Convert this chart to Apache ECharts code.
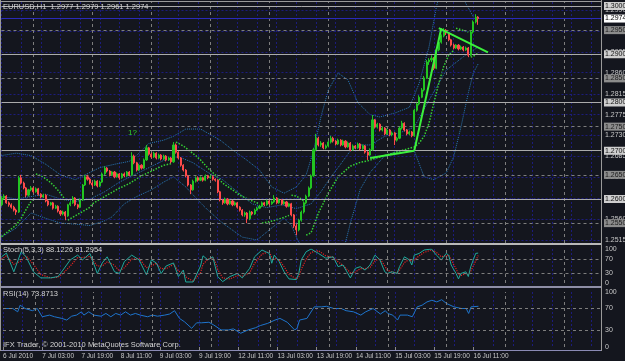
<!DOCTYPE html>
<html>
<head>
<meta charset="utf-8">
<script src="https://cdn.jsdelivr.net/npm/echarts@6/dist/echarts.min.js"></script>
<style>
html,body{margin:0;padding:0;background:#14161e;}
#chart{width:625px;height:361px;}
</style>
</head>
<body>
<div id="chart"></div>
<script>
// time slots: H1 bars from 6 Jul 2010 11:00, then empty future slots
const dayNames = ['6 Jul','7 Jul','8 Jul','9 Jul','12 Jul','13 Jul','14 Jul','15 Jul','16 Jul','19 Jul','20 Jul'];
const categories = [];
dayNames.forEach(function (d, k) {
    for (let h = (k === 0 ? 11 : 0); h < 24; h++) {
        if (categories.length < 245) categories.push(d + ' ' + (h < 10 ? '0' + h : h) + ':00');
    }
});

// [open, close, low, high]
const candles = [
[1.2588,1.2602,1.2585,1.2606],[1.2602,1.2606,1.2599,1.2610],[1.2606,1.2592,1.2590,1.2608],[1.2592,1.2588,1.2584,1.2595],
[1.2588,1.2583,1.2580,1.2591],[1.2583,1.2577,1.2574,1.2586],[1.2577,1.2573,1.2567,1.2580],[1.2573,1.2644,1.2571,1.2648],
[1.2644,1.2633,1.2630,1.2650],[1.2633,1.2623,1.2620,1.2636],[1.2623,1.2608,1.2604,1.2625],[1.2608,1.2619,1.2605,1.2621],
[1.2619,1.2623,1.2616,1.2627],[1.2623,1.2615,1.2612,1.2625],[1.2615,1.2621,1.2613,1.2624],[1.2621,1.2610,1.2607,1.2623],
[1.2610,1.2604,1.2601,1.2612],[1.2604,1.2608,1.2602,1.2611],[1.2608,1.2596,1.2593,1.2610],[1.2596,1.2588,1.2585,1.2598],
[1.2588,1.2592,1.2586,1.2594],[1.2592,1.2581,1.2578,1.2594],[1.2581,1.2585,1.2579,1.2588],[1.2585,1.2575,1.2572,1.2587],
[1.2575,1.2569,1.2565,1.2577],[1.2569,1.2573,1.2566,1.2576],[1.2573,1.2565,1.2556,1.2575],[1.2565,1.2588,1.2563,1.2590],
[1.2588,1.2592,1.2585,1.2596],[1.2592,1.2602,1.2590,1.2606],[1.2602,1.2588,1.2585,1.2604],[1.2588,1.2583,1.2579,1.2590],
[1.2583,1.2598,1.2581,1.2601],[1.2598,1.2629,1.2596,1.2631],[1.2629,1.2646,1.2627,1.2650],[1.2646,1.2641,1.2638,1.2650],
[1.2641,1.2633,1.2630,1.2644],[1.2633,1.2629,1.2625,1.2636],[1.2629,1.2637,1.2627,1.2640],[1.2637,1.2627,1.2624,1.2639],
[1.2627,1.2635,1.2625,1.2638],[1.2635,1.2652,1.2633,1.2655],[1.2652,1.2664,1.2650,1.2668],[1.2664,1.2658,1.2655,1.2666],
[1.2658,1.2650,1.2647,1.2660],[1.2650,1.2656,1.2648,1.2658],[1.2656,1.2646,1.2643,1.2658],[1.2646,1.2652,1.2644,1.2655],
[1.2652,1.2644,1.2640,1.2654],[1.2644,1.2652,1.2642,1.2654],[1.2652,1.2648,1.2645,1.2655],[1.2648,1.2656,1.2646,1.2658],
[1.2656,1.2650,1.2647,1.2658],[1.2650,1.2689,1.2648,1.2697],[1.2689,1.2675,1.2672,1.2692],[1.2675,1.2660,1.2657,1.2677],
[1.2660,1.2670,1.2658,1.2673],[1.2670,1.2664,1.2661,1.2672],[1.2664,1.2681,1.2662,1.2684],[1.2681,1.2706,1.2679,1.2712],
[1.2706,1.2693,1.2690,1.2708],[1.2693,1.2687,1.2684,1.2696],[1.2687,1.2695,1.2685,1.2698],[1.2695,1.2685,1.2682,1.2697],
[1.2685,1.2691,1.2683,1.2694],[1.2691,1.2683,1.2680,1.2693],[1.2683,1.2689,1.2681,1.2692],[1.2689,1.2681,1.2678,1.2691],
[1.2681,1.2685,1.2679,1.2688],[1.2685,1.2677,1.2674,1.2687],[1.2677,1.2712,1.2675,1.2718],[1.2712,1.2697,1.2694,1.2715],
[1.2697,1.2685,1.2682,1.2699],[1.2685,1.2670,1.2667,1.2687],[1.2670,1.2660,1.2657,1.2672],[1.2660,1.2648,1.2645,1.2662],
[1.2648,1.2629,1.2626,1.2650],[1.2629,1.2619,1.2610,1.2631],[1.2619,1.2637,1.2617,1.2640],[1.2637,1.2644,1.2634,1.2647],
[1.2644,1.2639,1.2636,1.2647],[1.2639,1.2644,1.2637,1.2647],[1.2644,1.2639,1.2636,1.2646],[1.2639,1.2648,1.2637,1.2651],
[1.2648,1.2644,1.2641,1.2650],[1.2644,1.2646,1.2642,1.2650],[1.2646,1.2641,1.2638,1.2648],[1.2641,1.2639,1.2636,1.2643],
[1.2639,1.2615,1.2612,1.2641],[1.2615,1.2598,1.2595,1.2617],[1.2598,1.2592,1.2588,1.2600],[1.2592,1.2600,1.2590,1.2603],
[1.2600,1.2590,1.2587,1.2602],[1.2590,1.2596,1.2588,1.2599],[1.2596,1.2588,1.2585,1.2598],[1.2588,1.2592,1.2586,1.2595],
[1.2592,1.2583,1.2580,1.2594],[1.2583,1.2577,1.2574,1.2585],[1.2577,1.2567,1.2564,1.2579],[1.2567,1.2571,1.2563,1.2574],
[1.2571,1.2559,1.2550,1.2573],[1.2559,1.2573,1.2556,1.2576],[1.2573,1.2569,1.2566,1.2575],[1.2569,1.2577,1.2567,1.2580],
[1.2577,1.2581,1.2575,1.2584],[1.2581,1.2585,1.2579,1.2588],[1.2585,1.2592,1.2583,1.2595],[1.2592,1.2588,1.2585,1.2594],
[1.2588,1.2596,1.2586,1.2599],[1.2596,1.2590,1.2587,1.2598],[1.2590,1.2594,1.2588,1.2597],[1.2594,1.2602,1.2592,1.2608],
[1.2602,1.2592,1.2589,1.2604],[1.2592,1.2598,1.2590,1.2601],[1.2598,1.2590,1.2587,1.2600],[1.2590,1.2594,1.2588,1.2597],
[1.2594,1.2585,1.2582,1.2596],[1.2585,1.2590,1.2583,1.2592],[1.2590,1.2567,1.2564,1.2592],[1.2567,1.2544,1.2540,1.2569],
[1.2544,1.2536,1.2525,1.2548],[1.2536,1.2556,1.2533,1.2559],[1.2556,1.2573,1.2553,1.2576],[1.2573,1.2592,1.2570,1.2595],
[1.2592,1.2606,1.2589,1.2609],[1.2606,1.2623,1.2604,1.2626],[1.2623,1.2648,1.2620,1.2651],[1.2648,1.2702,1.2646,1.2706],
[1.2702,1.2726,1.2699,1.2735],[1.2726,1.2712,1.2709,1.2729],[1.2712,1.2716,1.2708,1.2720],[1.2716,1.2706,1.2703,1.2718],
[1.2706,1.2710,1.2703,1.2713],[1.2710,1.2718,1.2707,1.2721],[1.2718,1.2726,1.2715,1.2731],[1.2726,1.2720,1.2717,1.2729],
[1.2720,1.2714,1.2711,1.2722],[1.2714,1.2722,1.2712,1.2725],[1.2722,1.2712,1.2709,1.2724],[1.2712,1.2720,1.2710,1.2723],
[1.2720,1.2708,1.2705,1.2722],[1.2708,1.2716,1.2706,1.2719],[1.2716,1.2702,1.2699,1.2718],[1.2702,1.2710,1.2700,1.2713],
[1.2710,1.2706,1.2703,1.2712],[1.2706,1.2714,1.2704,1.2717],[1.2714,1.2704,1.2701,1.2716],[1.2704,1.2710,1.2702,1.2713],
[1.2710,1.2697,1.2694,1.2712],[1.2697,1.2691,1.2681,1.2699],[1.2691,1.2702,1.2689,1.2705],[1.2702,1.2764,1.2700,1.2774],
[1.2764,1.2749,1.2746,1.2766],[1.2749,1.2755,1.2746,1.2758],[1.2755,1.2743,1.2740,1.2757],[1.2743,1.2747,1.2740,1.2750],
[1.2747,1.2735,1.2732,1.2749],[1.2735,1.2743,1.2733,1.2746],[1.2743,1.2733,1.2730,1.2745],[1.2733,1.2737,1.2730,1.2740],
[1.2737,1.2722,1.2712,1.2739],[1.2722,1.2726,1.2719,1.2729],[1.2726,1.2747,1.2724,1.2750],[1.2747,1.2757,1.2744,1.2762],
[1.2757,1.2743,1.2740,1.2759],[1.2743,1.2735,1.2732,1.2745],[1.2735,1.2739,1.2732,1.2742],[1.2739,1.2731,1.2728,1.2741],
[1.2731,1.2784,1.2729,1.2787],[1.2784,1.2797,1.2781,1.2800],[1.2797,1.2811,1.2794,1.2815],[1.2811,1.2826,1.2809,1.2830],
[1.2826,1.2851,1.2823,1.2855],[1.2851,1.2884,1.2849,1.2888],[1.2884,1.2888,1.2878,1.2892],[1.2888,1.2892,1.2884,1.2898],
[1.2892,1.2871,1.2867,1.2894],[1.2871,1.2909,1.2869,1.2912],[1.2909,1.2925,1.2906,1.2928],[1.2925,1.2938,1.2922,1.2941],
[1.2938,1.2950,1.2935,1.2954],[1.2950,1.2944,1.2940,1.2952],[1.2944,1.2930,1.2927,1.2946],[1.2930,1.2919,1.2916,1.2932],
[1.2919,1.2913,1.2910,1.2922],[1.2913,1.2919,1.2911,1.2921],[1.2919,1.2911,1.2908,1.2921],[1.2911,1.2915,1.2909,1.2918],
[1.2915,1.2909,1.2906,1.2917],[1.2909,1.2913,1.2907,1.2916],[1.2913,1.2898,1.2894,1.2915],[1.2898,1.2946,1.2896,1.2949],
[1.2946,1.2967,1.2943,1.2970],[1.2967,1.2977,1.2964,1.2983],[1.2977,1.2974,1.2961,1.2979]
];

// Bollinger bands, read at sparse bars [bar, price]
const bbUpper = [[0,1.2690],[6,1.2695],[12,1.2690],[18,1.2672],[24,1.2650],[30,1.2640],[36,1.2655],[40,1.2665],[46,1.2672],[52,1.2678],[56,1.2695],[60,1.2715],[66,1.2722],[70,1.2730],[75,1.2745],[81,1.2745],[89,1.2722],[94,1.2702],[100,1.2680],[105,1.2660],[110,1.2625],[115,1.2612],[120,1.2625],[124,1.2650],[127,1.2700],[130,1.2770],[133,1.2826],[137,1.2861],[141,1.2847],[145,1.2800],[150,1.2775],[154,1.2770],[160,1.2778],[166,1.2790],[170,1.2840],[174,1.2915],[177,1.2998],[180,1.3060],[186,1.3060],[189,1.3005],[192,1.2978],[194,1.2965]];
const bbMiddle = [[0,1.2605],[6,1.2600],[12,1.2605],[18,1.2610],[24,1.2600],[30,1.2595],[36,1.2600],[42,1.2615],[48,1.2635],[54,1.2650],[60,1.2665],[66,1.2680],[72,1.2688],[78,1.2675],[84,1.2655],[90,1.2640],[96,1.2615],[102,1.2590],[108,1.2582],[114,1.2588],[120,1.2580],[126,1.2590],[130,1.2615],[134,1.2645],[138,1.2672],[142,1.2700],[146,1.2712],[150,1.2712],[156,1.2730],[162,1.2737],[168,1.2749],[174,1.2805],[181,1.2867],[188,1.2895],[194,1.2915]];
const bbLower = [[0,1.2521],[6,1.2540],[12,1.2571],[18,1.2560],[24,1.2550],[30,1.2548],[36,1.2545],[42,1.2555],[45,1.2563],[50,1.2590],[55,1.2605],[61,1.2619],[66,1.2635],[70,1.2646],[75,1.2625],[81,1.2592],[84,1.2577],[90,1.2550],[98,1.2521],[104,1.2515],[110,1.2540],[115,1.2560],[118,1.2545],[121,1.2510],[126,1.2490],[130,1.2460],[134,1.2440],[138,1.2470],[142,1.2550],[146,1.2620],[150,1.2655],[156,1.2690],[162,1.2700],[168,1.2700],[172,1.2646],[176,1.2640],[181,1.2654],[184,1.2687],[187,1.2749],[190,1.2820],[192,1.2861],[194,1.2880]];

// parabolic SAR, one list per run
const sarRuns = [
[[0,1.2522],[2,1.2530],[4,1.2538],[6,1.2546],[8,1.2560],[10,1.2578],[12,1.2595],[13,1.2602]],
[[14,1.2652],[16,1.2648],[18,1.2642],[20,1.2634],[22,1.2624],[24,1.2612],[26,1.2598]],
[[27,1.2556],[30,1.2565],[33,1.2574],[36,1.2583],[37,1.2590],[42,1.2605],[47,1.2620],[52,1.2632],[57,1.2648],[62,1.2660],[66,1.2670],[69,1.2673]],
[[71,1.2718],[74,1.2710],[76,1.2702],[79,1.2690],[81,1.2681],[84,1.2664],[87,1.2650],[90,1.2633],[94,1.2619],[97,1.2608],[101,1.2598],[105,1.2590]],
[[106,1.2550],[109,1.2553],[112,1.2557],[115,1.2562],[117,1.2566]],
[[118,1.2608],[120,1.2606],[122,1.2600],[123,1.2596]],
[[124,1.2525],[126,1.2530],[129,1.2571],[133,1.2612],[137,1.2646],[142,1.2668],[146,1.2676],[149,1.2679],[152,1.2684],[156,1.2690],[160,1.2696],[164,1.2702],[168,1.2708],[170,1.2716],[172,1.2730],[174,1.2757],[176,1.2800],[178,1.2840],[180,1.2875],[182,1.2898],[184,1.2908]],
[[185,1.2954],[187,1.2951],[190,1.2946]],
[[191,1.2894],[192,1.2896],[194,1.2902]]
];

// hand drawn trend lines
const trendLines = [
[[150,1.2685],[168,1.2700]],
[[168,1.2700],[179.3,1.2954]],
[[178.3,1.2954],[198.3,1.2904]]
];

const stochMain = [[0,77],[2,88],[5,33],[8,92],[10,77],[13,33],[16,15],[20,15],[23,19],[25,38],[28,68],[31,82],[33,68],[36,87],[39,28],[41,59],[43,77],[46,33],[48,28],[50,63],[53,82],[56,68],[59,24],[61,68],[63,59],[65,28],[67,50],[70,59],[72,19],[74,38],[75,3],[78,3],[81,50],[82,80],[84,68],[86,77],[87,48],[88,19],[90,4],[93,19],[96,28],[98,15],[101,43],[103,77],[106,97],[109,87],[110,58],[111,82],[113,63],[115,33],[117,12],[120,10],[121,28],[122,68],[124,92],[126,100],[129,87],[132,73],[135,77],[137,48],[139,53],[142,15],[144,43],[146,48],[148,38],[150,53],[152,82],[154,68],[156,33],[157,28],[159,33],[161,28],[162,48],[164,77],[166,68],[167,53],[168,82],[170,87],[172,97],[175,100],[177,82],[179,68],[181,87],[182,82],[183,53],[185,28],[186,12],[187,28],[189,33],[190,19],[191,48],[193,87],[194,88]];
const stochSignal = [[0,70],[2,80],[5,55],[8,65],[10,80],[13,55],[16,25],[20,15],[23,17],[25,28],[28,50],[31,75],[33,75],[36,78],[39,50],[41,50],[43,62],[46,52],[48,35],[50,45],[53,70],[56,72],[59,45],[61,50],[63,58],[65,42],[67,42],[70,55],[72,35],[74,30],[75,18],[78,5],[81,30],[82,55],[84,70],[86,75],[87,62],[88,40],[90,15],[93,12],[96,22],[98,20],[101,30],[103,58],[106,85],[109,92],[110,75],[111,72],[113,68],[115,48],[117,25],[120,12],[121,18],[122,40],[124,70],[126,90],[129,95],[132,80],[135,76],[137,62],[139,52],[142,30],[144,32],[146,42],[148,42],[150,46],[152,65],[154,72],[156,50],[157,38],[159,32],[161,30],[162,38],[164,60],[166,70],[167,62],[168,68],[170,80],[172,90],[175,97],[177,90],[179,77],[181,80],[182,82],[183,68],[185,42],[186,25],[187,22],[189,28],[190,25],[191,35],[193,65],[194,81]];
const rsiValues = [[0,70],[4,70],[6,64],[7,76],[9,70],[12,66],[14,70],[16,55],[19,58],[21,55],[24,52],[26,49],[28,56],[30,58],[32,64],[33,58],[35,64],[37,58],[40,56],[42,61],[44,55],[46,61],[48,58],[50,64],[52,58],[54,61],[56,58],[59,55],[61,58],[63,56],[66,58],[68,60],[70,66],[72,52],[74,46],[77,34],[79,44],[81,44],[84,45],[86,40],[89,31],[92,31],[94,33],[97,25],[100,31],[103,35],[105,39],[108,43],[111,49],[113,52],[116,45],[119,31],[120,34],[121,49],[124,52],[127,73],[130,73],[132,74],[135,70],[138,70],[140,66],[143,64],[146,58],[148,64],[151,70],[154,60],[156,66],[157,61],[159,58],[161,49],[162,58],[165,58],[167,55],[169,73],[171,76],[173,82],[175,85],[177,82],[179,86],[181,79],[184,73],[187,70],[189,70],[190,61],[191,73],[194,74]];

// price scale
const priceTickValues = [1.2515,1.2558,1.2602,1.2645,1.2688,1.2732,1.2775,1.2818,1.2862,1.2905,1.2948,1.2992];
const priceTickLabels = ['1.2515','1.2560','1.2600','1.2645','1.2685','1.2730','1.2775','1.2815','1.2860','1.2905','1.2945','1.2990'];
const solidLevels = [1.3000,1.2900,1.2800,1.2700,1.2600];
const dashedLevels = [1.2950,1.2850,1.2750,1.2650,1.2550];
const bidPrice = 1.2974;
const daySeparators = [13,37,61,85,109,133,157,181,205,229];
const oscLevels = [70,30];

const chart = echarts.init(document.getElementById('chart'));
const FONT = 'Liberation Sans';
const navy = '#1c1c7c';
const sepStyle = {color:'#7d7d7d', type:[3,3], width:1};

function sepLines() {
    return daySeparators.map(function (i) { return {xAxis: categories[i]}; });
}
function xAxisFor(idx, showLabels) {
    return {
        type:'category', gridIndex:idx, data:categories, boundaryGap:false,
        axisLine:{show:false},
        axisTick: showLabels ? {show:true, length:3, interval:function (i) { return i % 16 === 0 && i < 195; }, lineStyle:{color:'#8a8a8a'}} : {show:false},
        axisLabel: showLabels ? {
            show:true, color:'#c8c8c8', fontSize:6.5, fontFamily:FONT, align:'left', margin:3,
            interval:function (i) { return i % 16 === 0 && i < 195; },
            formatter:function (v, i) { return i === 0 ? '6 Jul 2010' : v; }
        } : {show:false},
        offset: showLabels ? 3 : 0,
        splitLine:{show:true, interval:function (i) { return i % 8 === 0; }, lineStyle:{color:navy, type:[2,2], width:1}}
    };
}
function oscAxis(idx) {
    return {
        type:'value', gridIndex:idx, min:0, max:100, interval:10, position:'right',
        axisLine:{show:false}, axisTick:{show:false}, splitLine:{show:false},
        axisLabel:{color:'#c8c8c8', fontSize:7, fontFamily:FONT, margin:4,
            formatter:function (v) { return (v === 0 || v === 30 || v === 70 || v === 100) ? String(v) : ''; }}
    };
}
function pairLine(data, color, type, width, z) {
    return {type:'line', xAxisIndex:0, yAxisIndex:0, data:data, symbol:'none', silent:true, z:z,
        lineStyle:{color:color, type:type, width:width}};
}

const gridMarks = priceTickValues.map(function (v, k) {
    return {yAxis:v, label:{show:true, position:'end', distance:4, formatter:priceTickLabels[k], color:'#c8c8c8', fontSize:7, fontFamily:FONT}};
}).concat(sepLines().map(function (m) { return Object.assign({lineStyle:sepStyle, label:{show:false}}, m); }));

const levelMarks = [];
dashedLevels.forEach(function (v) {
    levelMarks.push({yAxis:v, lineStyle:{color:'#7d7d7d', type:[3,3], width:1},
        label:{show:true, position:'end', distance:3, formatter:v.toFixed(4), backgroundColor:'#8c8c8c', color:'#1a1a1a', padding:[1,1,0,1], fontSize:7, fontFamily:FONT}});
});
solidLevels.forEach(function (v) {
    levelMarks.push({yAxis:v, lineStyle:{color:'#ababab', type:'solid', width:1},
        label:{show:true, position:'end', distance:3, formatter:v.toFixed(4), backgroundColor:'#cfcfcf', color:'#111', padding:[1,1,0,1], fontSize:7, fontFamily:FONT}});
});
levelMarks.push({yAxis:bidPrice, lineStyle:{color:'#2a2ab8', type:'solid', width:1},
    label:{show:true, position:'end', distance:3, formatter:bidPrice.toFixed(4), backgroundColor:'#ffffff', color:'#000', padding:[1,1,0,1], fontSize:7, fontFamily:FONT}});

const series = [
    {type:'line', xAxisIndex:0, yAxisIndex:0, data:[], silent:true, z:1,
        markLine:{silent:true, symbol:'none', precision:6, animation:false, lineStyle:{color:navy, type:[2,2], width:1}, data:gridMarks}},
    pairLine(bbUpper, '#2a78b8', 'dotted', 1, 2),
    pairLine(bbMiddle, '#2a78b8', 'dotted', 1, 2),
    pairLine(bbLower, '#2a78b8', 'dotted', 1, 2)
];
sarRuns.forEach(function (run) { series.push(pairLine(run, '#35d035', 'dotted', 1.5, 3)); });
series.push({type:'candlestick', xAxisIndex:0, yAxisIndex:0, data:candles, barWidth:1.6, z:5, silent:true,
    itemStyle:{color:'#22c422', color0:'#ff4b4b', borderColor:'#22c422', borderColor0:'#ff4b4b', borderWidth:1}});
series.push({type:'line', xAxisIndex:0, yAxisIndex:0, data:[], silent:true, z:6,
    markLine:{silent:true, symbol:'none', precision:6, animation:false, data:levelMarks}});
trendLines.forEach(function (t) { series.push(pairLine(t, '#3cf03c', 'solid', 2, 7)); });

function oscMarks() {
    return oscLevels.map(function (v) { return {yAxis:v, lineStyle:sepStyle}; })
        .concat(sepLines().map(function (m) { return Object.assign({lineStyle:sepStyle}, m); }));
}

// stochastic panel
series.push({type:'line', xAxisIndex:1, yAxisIndex:1, data:stochMain, symbol:'none', silent:true, z:4,
    lineStyle:{color:'#1fa89c', width:1},
    markLine:{silent:true, symbol:'none', precision:6, animation:false, label:{show:false}, data:oscMarks()}});
series.push({type:'line', xAxisIndex:1, yAxisIndex:1, data:stochSignal, symbol:'none', silent:true, z:3,
    lineStyle:{color:'#e02424', width:1.2, type:'dotted'}});

// RSI panel
series.push({type:'line', xAxisIndex:2, yAxisIndex:2, data:rsiValues, symbol:'none', silent:true, z:4,
    lineStyle:{color:'#1e74cc', width:1},
    markLine:{silent:true, symbol:'none', precision:6, animation:false, label:{show:false}, data:oscMarks()}});

function txt(x, y, s, color, size) {
    return {type:'text', x:x, y:y, z:100, silent:true, style:{text:s, fill:color || '#d4d4d4', font:(size || 7.5) + 'px "' + FONT + '"'}};
}

chart.setOption({
    backgroundColor:'#14161e',
    animation:false,
    grid:[
        {left:1.5, top:2, width:599.5, height:241},
        {left:1.5, top:249, width:599.5, height:34},
        {left:1.5, top:292, width:599.5, height:55}
    ],
    xAxis:[xAxisFor(0, false), xAxisFor(1, false), xAxisFor(2, true)],
    yAxis:[
        {type:'value', gridIndex:0, min:1.25088, max:1.30083, show:false},
        oscAxis(1),
        oscAxis(2)
    ],
    series:series,
    graphic:[
        {type:'rect', silent:true, z:90, shape:{x:0, y:1, width:602, height:1}, style:{fill:'#9a9a9a'}},
        {type:'rect', silent:true, z:90, shape:{x:0, y:243, width:602, height:2}, style:{fill:'#b8b8b8'}},
        {type:'rect', silent:true, z:90, shape:{x:0, y:286, width:602, height:2}, style:{fill:'#8e8ea6'}},
        {type:'rect', silent:true, z:90, shape:{x:0, y:350, width:602, height:1}, style:{fill:'#8a8ab4'}},
        {type:'rect', silent:true, z:90, shape:{x:601, y:0, width:1, height:351}, style:{fill:'#9a9a9a'}},
        {type:'rect', silent:true, z:90, shape:{x:0, y:0, width:1, height:351}, style:{fill:'#9a9a9a'}},
        txt(3, 3, 'EURUSD,H1  1.2977 1.2979 1.2961 1.2974'),
        txt(3, 246, 'Stoch(5,3,3) 88.1226 81.2954'),
        txt(3, 290, 'RSI(14) 73.8713'),
        txt(3, 341, 'IFX Trader, \u00a9 2001-2010 MetaQuotes Software Corp.'),
        txt(128, 129, '1?', '#2fcf2f', 8)
    ]
});
</script>
</body>
</html>
